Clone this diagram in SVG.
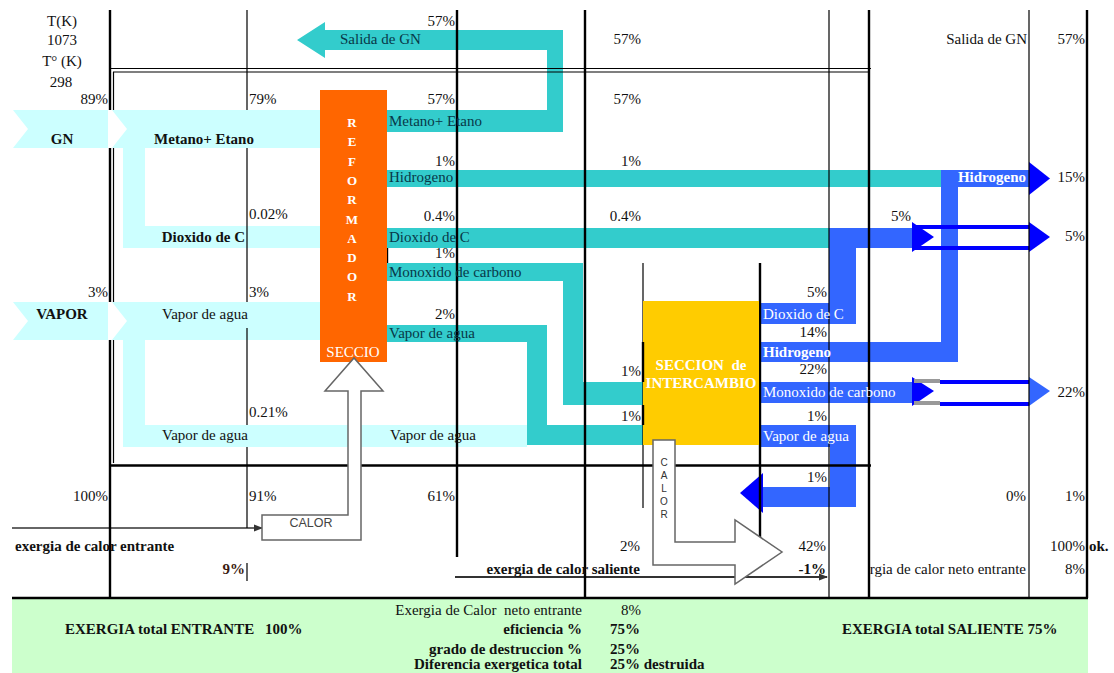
<svg xmlns="http://www.w3.org/2000/svg" width="1114" height="673" viewBox="0 0 1114 673">
<style>
text{font-family:"Liberation Serif","Times New Roman",serif;font-size:15px;fill:#111}
.b{font-weight:bold}
.e{text-anchor:end}
.m{text-anchor:middle}
.w{fill:#fff}
.tt{fill:#083848}
.lc{fill:#ccffff}
.tc{fill:#33cccc}
.bl{fill:#3366ff}
.db{fill:#0000ff}
.thin{stroke:#000;stroke-width:1.2;fill:none}
.thick{stroke:#000;stroke-width:2.4;fill:none}
.calor{fill:#fff;stroke:#666;stroke-width:1.5}
.rl{fill:#fff;font-weight:bold;font-size:13px;text-anchor:middle}
.cb{font-family:"Liberation Sans",Arial,sans-serif;font-size:12.5px;fill:#444;text-anchor:middle}
.cv{font-family:"Liberation Sans",Arial,sans-serif;font-size:10px;fill:#333;text-anchor:middle}
</style>
<defs>
<marker id="ah" markerWidth="9" markerHeight="8" refX="8" refY="4" orient="auto" markerUnits="userSpaceOnUse"><path d="M0,0.5 L9,4 L0,7.5 Z" fill="#333"/></marker>
</defs>
<rect width="1114" height="673" fill="#fff"/>
<rect id="summary-bg" x="12" y="598" width="1076" height="75" fill="#ccffcc"/>

<g id="connectors">
 <polygon class="lc" points="13,110 108,110 108,148 13,148 28,129"/>
 <polygon class="lc" points="112,110 320,110 320,148 145,148 145,226 320,226 320,248 123,248 123,148 112,148 127,129"/>
 <polygon class="lc" points="13,302 108,302 108,340 13,340 28,321"/>
 <polygon class="lc" points="112,302 320,302 320,340 145,340 145,425 527,425 527,447 123,447 123,340 112,340 127,321"/>
 <polygon class="tc" points="297,40 325,22 325,30 563,30 563,132 387,132 387,110 547,110 547,50 325,50 325,58"/>
 <rect class="tc" x="387" y="170" width="554" height="17"/>
 <rect class="tc" x="387" y="228" width="442" height="20"/>
 <polygon class="tc" points="387,263 583,263 583,382 643,382 643,405 563,405 563,281 387,281"/>
 <polygon class="tc" points="387,325 547,325 547,425 643,425 643,445 527,445 527,342 387,342"/>
 <polygon class="bl" points="941,170 1029,170 1029,187 958,187 958,362 760,362 760,342 941,342"/>
 <polygon class="db" points="1029,162 1050,178.5 1029,195"/>
 <polygon class="bl" points="829,228 912,228 912,248 856,248 856,324 760,324 760,303 829,303"/>
 <polygon class="db" points="912,222 934,237 912,252"/>
 <rect class="db" x="914" y="225" width="115" height="4"/>
 <rect class="db" x="914" y="246" width="115" height="4"/>
 <polygon class="db" points="1029,222 1050,237 1029,252"/>
 <rect class="bl" x="760" y="382" width="152" height="21"/>
 <polygon class="db" points="912,377 934,391 912,406"/>
 <rect x="914" y="379" width="26" height="4" fill="#999"/>
 <rect x="914" y="401" width="26" height="4" fill="#999"/>
 <rect class="db" x="940" y="380" width="89" height="4"/>
 <rect class="db" x="940" y="402" width="89" height="4"/>
 <polygon class="bl" points="1029,377 1050,391 1029,406"/>
 <polygon class="bl" points="760,425 856,425 856,507 763,507 763,487 830,487 830,447 760,447"/>
 <polygon class="db" points="763,473 740,493 763,513"/>
 <line x1="12" y1="528" x2="262" y2="528" stroke="#333" stroke-width="1.5" marker-end="url(#ah)"/>
 <line x1="455" y1="577" x2="827" y2="577" stroke="#333" stroke-width="2" marker-end="url(#ah)"/>
</g>

<g id="grid">
 <path class="thick" d="M110,10 V110 M110,148 V302 M110,340 V598"/>
 <path class="thin" d="M113.5,72 V110 M113.5,148 V302 M113.5,340 V463"/>
 <path class="thin" d="M110,68.5 H871 M113,72 H869"/>
 <path class="thick" d="M110,465.5 H871"/>
 <path class="thin" d="M247,10 V110 M247,148 V302 M247,328 V425 M247,447 V528 M247,563 V581"/>
 <path class="thick" d="M457,10 V557"/>
 <path class="thick" d="M585,10 V598"/>
 <path class="thin" d="M829,10 V598"/>
 <path class="thick" d="M869,10 V598"/>
 <path class="thin" d="M1029,10 V598" stroke="#444"/>
 <path class="thick" d="M1087,10 V598"/>
 <path class="thick" d="M12,598 H1088"/>
 <path class="thick" d="M387,248 V263"/>
 <path class="thin" d="M643,263 V508"/>
 <path class="thick" d="M760,263 V540"/>
</g>

<g id="reformador">
 <rect x="320" y="90" width="67" height="272" fill="#ff6600"/>
 <text x="352" y="127" class="rl">R</text>
 <text x="352" y="146" class="rl">E</text>
 <text x="352" y="166" class="rl">F</text>
 <text x="352" y="185" class="rl">O</text>
 <text x="352" y="204" class="rl">R</text>
 <text x="352" y="224" class="rl">M</text>
 <text x="352" y="243" class="rl">A</text>
 <text x="352" y="262" class="rl">D</text>
 <text x="352" y="281" class="rl">O</text>
 <text x="352" y="301" class="rl">R</text>
 <text x="353" y="357" class="m w">SECCIO</text>
</g>

<g id="intercambio">
 <rect x="643" y="301" width="116" height="144" fill="#ffcc00"/>
 <path class="thick" d="M643,342 V382 M643,405 V425" stroke-width="3"/>
 <text x="701" y="370" class="m w b">SECCION&#160; de</text>
 <text x="701" y="388" class="m w b">INTERCAMBIO</text>
</g>

<g id="calor-entrada">
 <path class="calor" d="M262,515 L348,515 L348,391 L325,391 L354,358 L383,391 L361,391 L361,540 L262,540 Z"/>
 <text x="311" y="527" class="cb">CALOR</text>
</g>

<g id="calor-salida">
 <path class="calor" d="M653,440 L675,440 L675,542 L735,542 L735,520 L782,552 L735,584 L735,565 L653,565 Z"/>
 <text x="664" y="466" class="cv">C</text>
 <text x="664" y="479" class="cv">A</text>
 <text x="664" y="492" class="cv">L</text>
 <text x="664" y="505" class="cv">O</text>
 <text x="664" y="518" class="cv">R</text>
</g>

<g id="labels">
 <text x="62" y="26" class="m">T(K)</text>
 <text x="62" y="45" class="m">1073</text>
 <text x="62" y="66" class="m">T° (K)</text>
 <text x="61" y="87" class="m">298</text>
 <text x="108" y="104" class="e">89%</text>
 <text x="249" y="104">79%</text>
 <text x="62" y="144" class="m b">GN</text>
 <text x="204" y="144" class="m b">Metano+ Etano</text>
 <text x="249" y="219">0.02%</text>
 <text x="245" y="242" class="e b">Dioxido de C</text>
 <text x="108" y="297" class="e">3%</text>
 <text x="249" y="297">3%</text>
 <text x="62" y="319" class="m b">VAPOR</text>
 <text x="162" y="319">Vapor de agua</text>
 <text x="249" y="417">0.21%</text>
 <text x="162" y="440">Vapor de agua</text>
 <text x="390" y="440">Vapor de agua</text>

 <text x="455" y="26" class="e">57%</text>
 <text x="340" y="44" class="tt">Salida de GN</text>
 <text x="455" y="104" class="e">57%</text>
 <text x="389" y="126" class="tt">Metano+ Etano</text>
 <text x="455" y="166" class="e">1%</text>
 <text x="389" y="182" class="tt">Hidrogeno</text>
 <text x="455" y="221" class="e">0.4%</text>
 <text x="389" y="242" class="tt">Dioxido de C</text>
 <text x="455" y="258" class="e">1%</text>
 <text x="389" y="277" class="tt">Monoxido de carbono</text>
 <text x="455" y="319" class="e">2%</text>
 <text x="389" y="338" class="tt">Vapor de agua</text>

 <text x="641" y="44" class="e">57%</text>
 <text x="641" y="104" class="e">57%</text>
 <text x="641" y="166" class="e">1%</text>
 <text x="641" y="221" class="e">0.4%</text>
 <text x="641" y="376" class="e">1%</text>
 <text x="641" y="421" class="e">1%</text>

 <text x="827" y="297" class="e">5%</text>
 <text x="763" y="319" class="w">Dioxido de C</text>
 <text x="827" y="337" class="e">14%</text>
 <text x="763" y="357" class="w b">Hidrogeno</text>
 <text x="827" y="374" class="e">22%</text>
 <text x="763" y="397" class="w">Monoxido de carbono</text>
 <text x="827" y="421" class="e">1%</text>
 <text x="763" y="441" class="w">Vapor de agua</text>
 <text x="827" y="482" class="e">1%</text>

 <text x="1027" y="44" class="e">Salida de GN</text>
 <text x="1085" y="44" class="e">57%</text>
 <text x="1026" y="182" class="e w b">Hidrogeno</text>
 <text x="1085" y="182" class="e">15%</text>
 <text x="911" y="221" class="e">5%</text>
 <text x="1085" y="241" class="e">5%</text>
 <text x="1085" y="397" class="e">22%</text>

 <text x="108" y="501" class="e">100%</text>
 <text x="249" y="501">91%</text>
 <text x="455" y="501" class="e">61%</text>
 <text x="1026" y="501" class="e">0%</text>
 <text x="1085" y="501" class="e">1%</text>
 <text x="15" y="551" class="b">exergia de calor entrante</text>
 <text x="245" y="574" class="e b" style="fill:#3a1a10">9%</text>
 <text x="640" y="551" class="e">2%</text>
 <text x="826" y="551" class="e">42%</text>
 <text x="640" y="574" class="e b">exergia de calor saliente</text>
 <text x="826" y="574" class="e b">-1%</text>
 <text x="1085" y="551" class="e">100%</text>
 <text x="1089" y="551" class="b">ok.</text>
 <text x="1026" y="574" class="e">rgia de calor neto entrante</text>
 <text x="1085" y="574" class="e">8%</text>
</g>

<g id="summary">
 <text x="65" y="634" class="b">EXERGIA total ENTRANTE</text>
 <text x="265" y="634" class="b">100%</text>
 <text x="582" y="615" class="e">Exergia de Calor&#160; neto entrante</text>
 <text x="641" y="615" class="e">8%</text>
 <text x="582" y="634" class="e b">eficiencia %</text>
 <text x="610" y="634" class="b">75%</text>
 <text x="582" y="654" class="e b">grado de destruccion %</text>
 <text x="610" y="654" class="b">25%</text>
 <text x="582" y="669" class="e b">Diferencia exergetica total</text>
 <text x="610" y="669" class="b">25% destruida</text>
 <text x="842" y="634" class="b">EXERGIA total SALIENTE 75%</text>
</g>
</svg>
